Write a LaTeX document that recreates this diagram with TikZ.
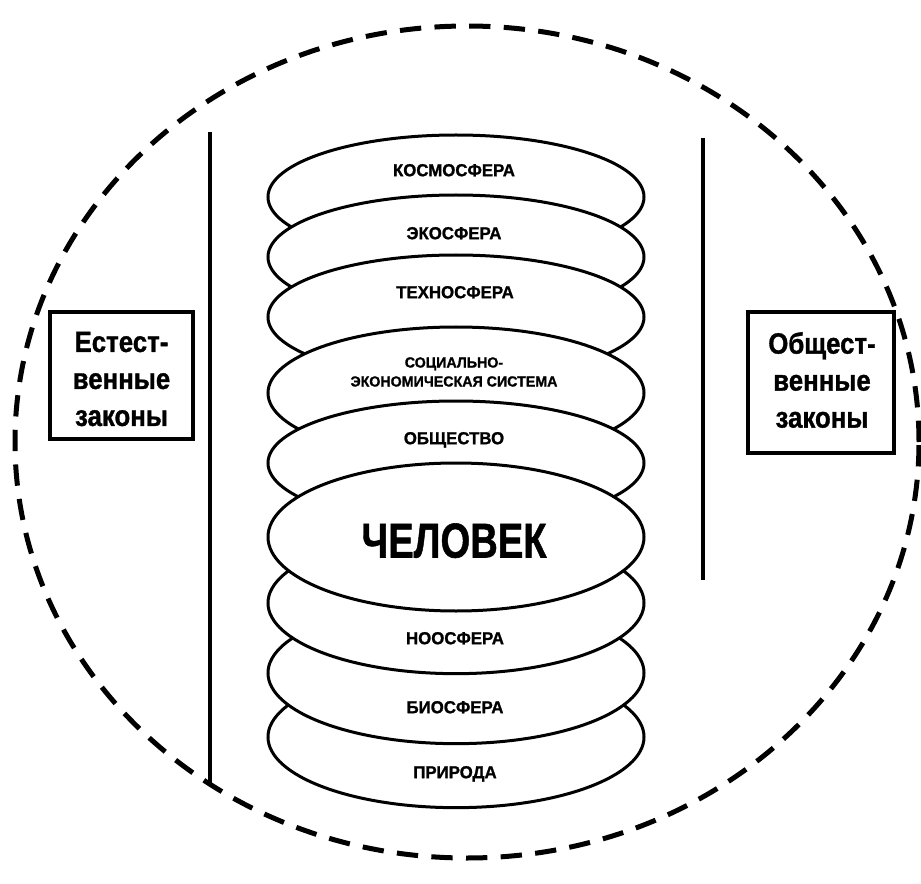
\documentclass[tikz,border=0pt]{standalone}
\usepackage{fontspec}
\setmainfont{Liberation Sans}
\newfontfamily\heavy{Liberation Sans Bold}[FakeBold=1.2]
\usetikzlibrary{shapes.geometric}
\begin{document}
\begin{tikzpicture}[x=0.75pt,y=-0.75pt,
 sphere/.style={ellipse, draw, fill=white, line width=2.25pt, inner sep=0pt, minimum width=282pt},
 upper/.style={sphere, minimum height=93pt},
 lower/.style={sphere, minimum height=106pt},
 lbl/.style={font=\heavy\fontsize{13}{15}\selectfont, inner sep=0pt, text height=9.3pt, text depth=0pt, xscale=0.97},
 lawbox/.style={draw, line width=2.6pt, inner sep=0pt},
 lawtext/.style={font=\heavy\fontsize{22}{27.75}\selectfont, align=center, inner sep=0pt, xscale=0.88},
 rail/.style={line width=3pt},
 boundary/.style={ellipse, draw, line width=3.75pt, dash pattern=on 16pt off 10pt, inner sep=0pt}
]
\useasboundingbox (0,0) rectangle (921,884);
\node[boundary, minimum width=678pt, minimum height=624pt] (circ) at (467,442) {};
% rails
\coordinate (la) at (210,132);
\coordinate (lb) at (210,785);
\coordinate (ra) at (703,138);
\coordinate (rb) at (703,580);
\draw[rail] (la) -- (lb);
\draw[rail] (ra) -- (rb);
% law boxes
\node[lawbox, minimum width=107pt, minimum height=95pt] (lbox) at (121.5,375.5) {};
\node[lawtext] (ltext) at (121.5,379) {Естест-\\венные\\законы};
\node[lawbox, minimum width=109.5pt, minimum height=106pt] (rbox) at (821,382.5) {};
\node[lawtext] (rtext) at (822,380) {Общест-\\венные\\законы};
% upper spheres
\node[upper] (kosmo) at (456,197) {};
\node[upper] (eko) at (456,257) {};
\node[upper] (tekhno) at (456,317) {};
\node[upper, minimum height=99pt] (sots) at (456,393) {};
\node[upper] (obshch) at (456,463) {};
% lower spheres
\node[lower] (prir) at (456,737) {};
\node[lower] (bio) at (456,673) {};
\node[lower] (noo) at (456,603) {};
% human
\node[sphere, minimum height=111pt] (chel) at (456,537) {};
% labels
\node[lbl] (tkosmo) at (454,170) {КОСМОСФЕРА};
\node[lbl] (teko) at (454,233) {ЭКОСФЕРА};
\node[lbl] (ttekhno) at (455,292) {ТЕХНОСФЕРА};
\node[font=\heavy\fontsize{11}{14.25}\selectfont, align=center, inner sep=0pt, xscale=0.97] (tsots) at (454,372) {СОЦИАЛЬНО-\\ЭКОНОМИЧЕСКАЯ СИСТЕМА};
\node[lbl] (tobshch) at (454,438) {ОБЩЕСТВО};
\node[font=\heavy\fontsize{36.7}{40}\selectfont, inner sep=0pt, xscale=0.78, text height=26.3pt, text depth=0pt] (tchel) at (454,540) {ЧЕЛОВЕК};
\node[lbl] (tnoo) at (455,638) {НООСФЕРА};
\node[lbl] (tbio) at (455,707) {БИОСФЕРА};
\node[lbl] (tprir) at (455,772) {ПРИРОДА};
\end{tikzpicture}
\end{document}
